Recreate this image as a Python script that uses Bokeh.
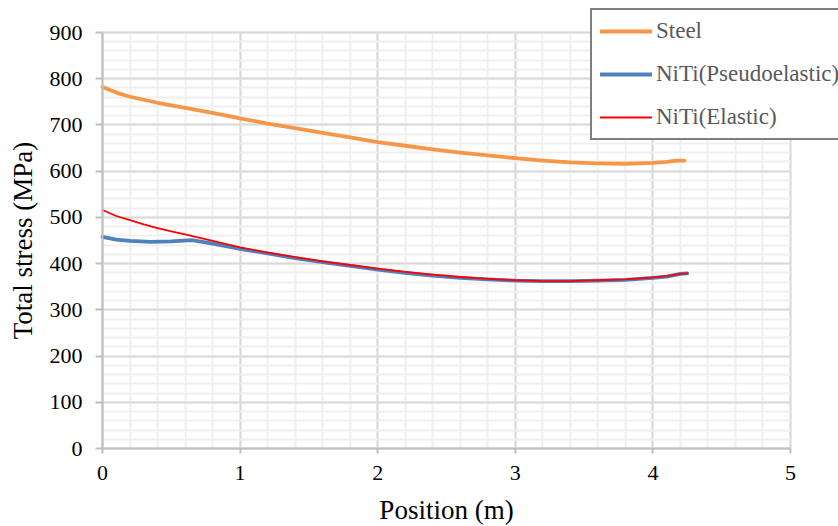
from bokeh.plotting import figure
from bokeh.models import Legend, LegendItem, FixedTicker, Range1d
from bokeh.embed import file_html
from bokeh.resources import INLINE

# Data
steel_x = [0, 0.1, 0.2, 0.4, 0.6, 0.8, 1.0, 1.2, 1.4, 1.6, 1.8, 2.0, 2.2, 2.4, 2.6, 2.8,
           3.0, 3.2, 3.4, 3.6, 3.8, 4.0, 4.1, 4.17, 4.23]
steel_y = [782, 770, 761, 748, 737, 726, 714, 703, 693, 683, 673, 663, 655, 647, 640, 634,
           628, 623, 619, 617, 616, 618, 620, 623, 623]

pe_x = [0, 0.1, 0.2, 0.35, 0.5, 0.65, 0.8, 1.0, 1.2, 1.4, 1.6, 1.8, 2.0, 2.2, 2.4, 2.6,
        2.8, 3.0, 3.2, 3.4, 3.6, 3.8, 4.0, 4.1, 4.2, 4.25]
pe_y = [458, 452, 449, 447, 448, 451, 443, 432, 422, 412, 403, 395, 387, 380, 374, 369,
        366, 363, 362, 362, 363, 365, 369, 372, 378, 379]

el_x = [0, 0.1, 0.2, 0.3, 0.4, 0.5, 0.6, 0.7, 0.8, 1.0, 1.2, 1.4, 1.6, 1.8, 2.0, 2.2,
        2.4, 2.6, 2.8, 3.0, 3.2, 3.4, 3.6, 3.8, 4.0, 4.1, 4.2, 4.25]
el_y = [516, 503, 494, 485, 477, 470, 463, 456, 449, 435, 424, 414, 405, 397, 389, 382,
        376, 371, 367, 364, 362, 362, 364, 366, 370, 373, 378, 379]

series_names = ["Steel", "NiTi(Pseudoelastic)", "NiTi(Elastic)"]
x_ticks = [0, 1, 2, 3, 4, 5]
y_ticks = [0, 100, 200, 300, 400, 500, 600, 700, 800, 900]
x_minor = [i * 0.2 for i in range(26)]
y_minor = list(range(0, 901, 20))

FONT = "'Times New Roman', 'Liberation Serif', serif"

# The frame spans the whole canvas so that the legend can overhang the plot area
W, H = 838, 526
left_px, right_px, top_px, bottom_px = 102, 790, 32, 448
sx = (right_px - left_px) / 5.0
sy = (bottom_px - top_px) / 900.0
x0 = -left_px / sx
x1 = (W - left_px) / sx
y0 = -(H - bottom_px) / sy
y1 = bottom_px / sy

p = figure(width=W, height=H, output_backend="svg", toolbar_location=None,
           x_range=Range1d(x0, x1), y_range=Range1d(y0, y1), min_border=0)
p.outline_line_color = None
p.background_fill_color = "white"
p.border_fill_color = "white"

# grids
p.xgrid.ticker = FixedTicker(ticks=x_ticks, minor_ticks=x_minor)
p.ygrid.ticker = FixedTicker(ticks=y_ticks, minor_ticks=y_minor)
p.xgrid.bounds = (0, 5)
p.ygrid.bounds = (0, 900)
p.xgrid.cross_bounds = (0, 900)
p.ygrid.cross_bounds = (0, 5)
for g in (p.xgrid[0], p.ygrid[0]):
    g.grid_line_color = "#d9d9d9"
    g.grid_line_width = 2
    g.minor_grid_line_color = "#f0f0f0"
    g.minor_grid_line_width = 2
    g.level = "underlay"

r_steel = p.line(steel_x, steel_y, line_color="#F79646", line_width=3.8, line_join="round", line_cap="round")
r_pe = p.line(pe_x, pe_y, line_color="#4F81BD", line_width=3.8, line_join="round", line_cap="round")
r_el = p.line(el_x, el_y, line_color="#FF0000", line_width=1.8, line_join="round", line_cap="round")

# axes (drawn at the data origin)
p.xaxis.ticker = FixedTicker(ticks=x_ticks)
p.yaxis.ticker = FixedTicker(ticks=y_ticks)
p.xaxis.fixed_location = 0
p.yaxis.fixed_location = 0
p.xaxis.bounds = (0, 5)
p.yaxis.bounds = (0, 900)
for ax in (p.xaxis[0], p.yaxis[0]):
    ax.axis_line_color = "#bfbfbf"
    ax.axis_line_width = 2
    ax.major_tick_line_color = "#bfbfbf"
    ax.major_tick_line_width = 2
    ax.major_tick_in = 0
    ax.minor_tick_in = 0
    ax.minor_tick_out = 0
    ax.major_label_text_font = FONT
    ax.major_label_text_font_size = "22px"
    ax.major_label_text_font_style = "normal"
    ax.major_label_text_color = "black"
    ax.axis_label_text_font = FONT
    ax.axis_label_text_font_size = "27px"
    ax.axis_label_text_font_style = "normal"
    ax.axis_label_text_color = "black"

p.xaxis.major_tick_out = 5
p.yaxis.major_tick_out = 7
p.xaxis.major_label_standoff = 12
p.yaxis.major_label_standoff = 13
p.xaxis.axis_label = "Position (m)"
p.yaxis.axis_label = "Total stress (MPa)"
p.xaxis.axis_label_standoff = 12
p.yaxis.axis_label_standoff = 9

legend = Legend(items=[LegendItem(label=series_names[0], renderers=[r_steel]),
                       LegendItem(label=series_names[1], renderers=[r_pe]),
                       LegendItem(label=series_names[2], renderers=[r_el])],
                location=(590, H - 140))
legend.label_text_font = FONT
legend.label_text_font_size = "23px"
legend.label_text_font_style = "normal"
legend.label_text_color = "#595959"
legend.glyph_width = 52
legend.glyph_height = 24
legend.label_height = 24
legend.label_standoff = 4
legend.spacing = 17
legend.padding = 8
legend.margin = 0
legend.border_line_color = "black"
legend.border_line_width = 2
legend.background_fill_color = "white"
legend.background_fill_alpha = 1
p.add_layout(legend, "center")

open("out.html", "w").write(file_html(p, INLINE))
